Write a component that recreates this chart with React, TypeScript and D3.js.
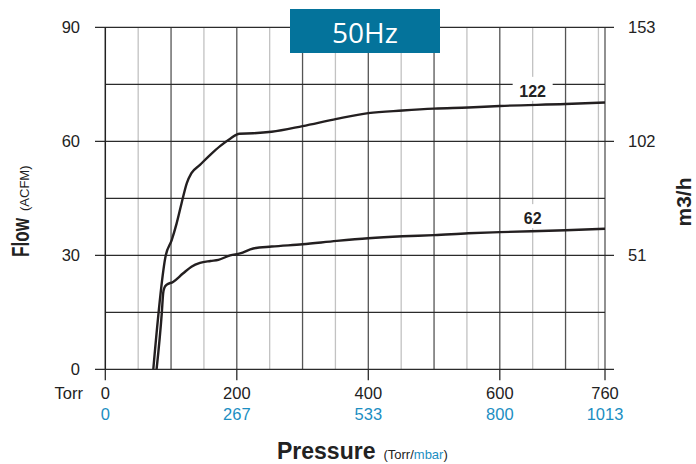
import { line, curveMonotoneX, scaleLinear, range } from "d3";

const width = 696;
const height = 464;

// pressure (Torr) / flow (ACFM)
const torr122 = [73, 92, 101, 108.5, 116, 124, 131, 144, 160, 175, 190, 204, 225, 253, 300, 352, 400, 452, 500, 552, 600, 700, 760];
const flow122 = [0, 30, 34, 38.4, 43.7, 49, 51.6, 53.8, 56.5, 58.8, 60.7, 62, 62.1, 62.5, 64, 65.9, 67.4, 68.1, 68.6, 68.9, 69.3, 69.8, 70.2];

const torr62 = [78, 86, 88, 90, 93, 103, 118, 131, 144, 160, 172, 190, 205, 225, 253, 300, 352, 400, 452, 500, 552, 600, 700, 760];
const flow62 = [0, 15, 20, 21.5, 22.2, 23, 25.2, 27, 28, 28.5, 28.8, 30, 30.5, 31.8, 32.3, 32.9, 33.8, 34.5, 35, 35.3, 35.8, 36.1, 36.6, 37];

const curveNames = ["122", "62"];
const labelTorr = 650;
const labelFlow = [71.7, 38.2];

const torrTicks = [0, 200, 400, 600, 760];
const mbarLabels = ["0", "267", "533", "800", "1013"];
const flowTicks = [0, 30, 60, 90];
const m3hTicks = [51, 102, 153];

const left = 105.3;
const right = 605;
const top = 27.3;
const bottom = 369.3;

const blue = "#1b8ec2";
const font = "'Liberation Sans', Arial, Helvetica, sans-serif";

export default function App() {
  const x = scaleLinear().domain([0, 760]).range([left, right]);
  const y = scaleLinear().domain([0, 90]).range([bottom, top]);
  const y2 = scaleLinear().domain([0, 153]).range([bottom, top]);

  const lineBuilder = line<[number, number]>()
    .x((d) => x(d[0]))
    .y((d) => y(d[1]))
    .curve(curveMonotoneX);

  const series = [
    torr122.map((t, i) => [t, flow122[i]] as [number, number]),
    torr62.map((t, i) => [t, flow62[i]] as [number, number]),
  ];

  const vLines = [...range(50, 760, 50), 760];
  const hLines = range(15, 90, 15).filter((v) => v % 30 !== 0);

  return (
    <svg
      width={width}
      height={height}
      viewBox={`0 0 ${width} ${height}`}
      style={{ position: "absolute", left: 0, top: 0, background: "white" }}
      fontFamily={font}
    >
      {/* vertical grid */}
      {vLines.map((v) => (
        <line
          key={`v${v}`}
          x1={x(v)}
          x2={x(v)}
          y1={top}
          y2={bottom}
          stroke={v % 100 === 0 || v === 760 ? "#555" : "#c2c2c2"}
          strokeWidth={1.3}
        />
      ))}
      {/* minor horizontal grid */}
      {hLines.map((v) => (
        <line key={`h${v}`} x1={left} x2={right} y1={y(v)} y2={y(v)} stroke="#2b2b2b" strokeWidth={1.2} />
      ))}
      {/* major horizontal grid with ticks */}
      {flowTicks.map((v) => (
        <line key={`hm${v}`} x1={95} x2={614} y1={y(v)} y2={y(v)} stroke="#2b2b2b" strokeWidth={1.3} />
      ))}
      <line x1={left} x2={left} y1={top} y2={bottom} stroke="#222" strokeWidth={1.5} />
      {torrTicks.map((t) => (
        <line key={`t${t}`} x1={x(t)} x2={x(t)} y1={bottom} y2={bottom + 11} stroke="#2b2b2b" strokeWidth={1.3} />
      ))}

      {/* curve labels with white backing */}
      {curveNames.map((name, i) => {
        const w = name.length * 10 + 10;
        return (
          <g key={name}>
            <rect x={x(labelTorr) - w / 2} y={y(labelFlow[i]) - 20} width={w} height={24} fill="white" />
            <text
              x={x(labelTorr)}
              y={y(labelFlow[i])}
              textAnchor="middle"
              fontSize={16}
              fontWeight="bold"
              fill="#222"
            >
              {name}
            </text>
          </g>
        );
      })}

      {/* curves */}
      {series.map((s, i) => (
        <path key={i} d={lineBuilder(s) ?? ""} fill="none" stroke="#231f20" strokeWidth={2.4} />
      ))}

      {/* left ticks */}
      {flowTicks.map((v) => (
        <text key={`lf${v}`} x={80} y={y(v) + 6} textAnchor="end" fontSize={16.5} fill="#222">
          {v}
        </text>
      ))}
      {/* right ticks */}
      {m3hTicks.map((v) => (
        <text key={`rt${v}`} x={628} y={y2(v) + 6} textAnchor="start" fontSize={16.5} fill="#222">
          {v}
        </text>
      ))}
      {/* bottom ticks */}
      <text x={83} y={399} textAnchor="end" fontSize={16.5} fill="#222">
        Torr
      </text>
      {torrTicks.map((t, i) => (
        <g key={`bt${t}`}>
          <text x={x(t)} y={399} textAnchor="middle" fontSize={16.5} fill="#222">
            {t}
          </text>
          <text x={x(t)} y={420} textAnchor="middle" fontSize={16.5} fill={blue}>
            {mbarLabels[i]}
          </text>
        </g>
      ))}

      {/* axis titles */}
      <text transform="translate(29,257) rotate(-90)" fill="#222">
        <tspan fontSize={24} fontWeight="bold" textLength={39} lengthAdjust="spacingAndGlyphs">
          Flow
        </tspan>
        <tspan fontSize={13} dx={7}>
          (ACFM)
        </tspan>
      </text>
      <text transform="translate(691,202) rotate(-90)" textAnchor="middle" fontSize={21} fontWeight="bold" fill="#222">
        m3/h
      </text>
      <text x={277} y={459} fill="#222">
        <tspan fontSize={23} fontWeight="bold">
          Pressure
        </tspan>
        <tspan fontSize={13} dx={8}>
          (Torr/
        </tspan>
        <tspan fontSize={13} fill={blue}>
          mbar
        </tspan>
        <tspan fontSize={13}>)</tspan>
      </text>

      {/* title box */}
      <rect x={290} y={9} width={150} height={44} fill="#04739b" />
      <text x={365} y={43} textAnchor="middle" fontSize={28} fill="white" fontFamily="'Open Sans', sans-serif">
        50Hz
      </text>
    </svg>
  );
}
